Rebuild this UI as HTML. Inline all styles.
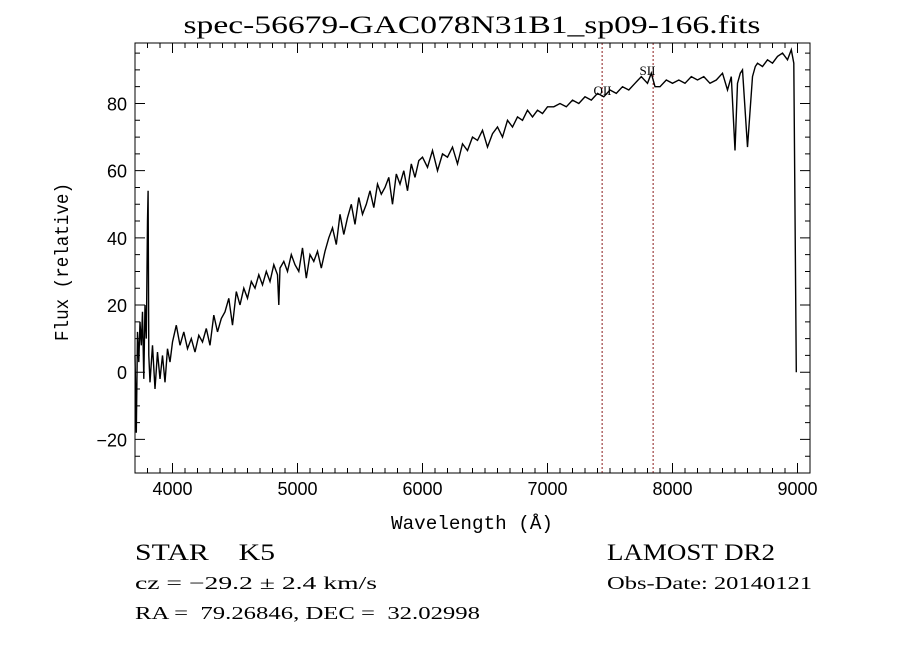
<!DOCTYPE html>
<html><head><meta charset="utf-8"><style>
body{margin:0;background:#fff;width:900px;height:649px;overflow:hidden}
svg text{font-family:"Liberation Serif",serif;fill:#000;white-space:pre}
.tk{font-family:"Liberation Sans",sans-serif;font-size:18px}
</style></head><body>
<svg id="chart" width="900" height="649" viewBox="0 0 900 649" xmlns="http://www.w3.org/2000/svg" xml:space="preserve">
<rect width="900" height="649" fill="#fff"/>
<text x="472" y="33" text-anchor="middle" font-size="25" textLength="577" lengthAdjust="spacingAndGlyphs">spec-56679-GAC078N31B1_sp09-166.fits</text>
<g id="axes"></g>
<text x="472" y="529" text-anchor="middle" font-size="19" textLength="162" lengthAdjust="spacingAndGlyphs" style="font-family:'Liberation Mono',monospace">Wavelength (Å)</text>
<text transform="translate(68,262) rotate(-90)" text-anchor="middle" font-size="19" textLength="158" lengthAdjust="spacingAndGlyphs" style="font-family:'Liberation Mono',monospace">Flux (relative)</text>
<text x="135" y="560" font-size="23" textLength="140" lengthAdjust="spacingAndGlyphs">STAR    K5</text>
<text x="607" y="560" font-size="23" textLength="168" lengthAdjust="spacingAndGlyphs">LAMOST DR2</text>
<text x="135" y="589" font-size="18" textLength="242" lengthAdjust="spacingAndGlyphs">cz = −29.2 ± 2.4 km/s</text>
<text x="607" y="589" font-size="18" textLength="205" lengthAdjust="spacingAndGlyphs">Obs-Date: 20140121</text>
<text x="135" y="619" font-size="18" textLength="345" lengthAdjust="spacingAndGlyphs">RA =  79.26846, DEC =  32.02998</text>
</svg>
<script>
const wavelengths=[3700,3710,3720,3730,3740,3750,3760,3770,3780,3790,3800,3805,3810,3820,3840,3860,3880,3900,3920,3940,3960,3980,4000,4030,4060,4090,4120,4150,4180,4210,4240,4270,4300,4330,4360,4390,4420,4450,4480,4510,4540,4570,4600,4630,4660,4690,4720,4750,4780,4810,4840,4850,4860,4890,4920,4950,4980,5010,5040,5070,5100,5130,5160,5190,5220,5250,5280,5310,5340,5370,5400,5430,5460,5490,5520,5550,5580,5610,5640,5670,5700,5730,5760,5790,5820,5850,5880,5910,5940,5970,6000,6040,6080,6120,6160,6200,6240,6280,6320,6360,6400,6440,6480,6520,6560,6600,6640,6680,6720,6760,6800,6840,6880,6920,6960,7000,7050,7100,7150,7200,7250,7300,7350,7400,7450,7500,7550,7600,7650,7700,7750,7800,7830,7860,7900,7950,8000,8050,8100,8150,8200,8250,8300,8350,8400,8440,8470,8500,8520,8542,8560,8600,8640,8662,8680,8720,8760,8800,8840,8880,8920,8950,8970,8990,9000,9002];
const flux=[5,-18,12,3,15,8,18,-2,20,10,45,54,5,-3,8,-5,6,-2,5,-3,7,3,9,14,8,12,7,10,6,11,9,13,8,17,12,16,18,22,14,24,20,25,22,27,25,29,26,30,27,32,29,20,31,33,30,35,32,30,37,28,35,33,36,31,36,40,43,38,47,41,46,50,44,52,47,50,54,49,56,53,55,58,50,59,56,60,54,62,58,63,64,61,66,60,65,64,67,62,68,66,70,69,72,67,71,73,70,75,73,76,75,78,76,78,77,79,79,80,79,81,80,82,81,83,82,84,83,85,84,86,88,86,89,85,85,87,86,87,86,88,87,88,86,87,89,84,88,66,86,89,90,67,88,91,92,91,93,92,94,95,93,96,92,0];
const xTicks=[4000,5000,6000,7000,8000,9000];
const yTicks=[-20,0,20,40,60,80];
const lineWl=[7437,7845];
const lineLabels=["OII","SII"];
const lineLabelWl=[7440,7800];
const lineLabelFlux=[82.5,88.5];

const NS="http://www.w3.org/2000/svg";
const L=135,R=810,T=43,B=473,X0=3700,X1=9100,Y0=-30,Y1=98;
const sx=v=>L+(v-X0)/(X1-X0)*(R-L);
const sy=v=>B-(v-Y0)/(Y1-Y0)*(B-T);
const g=document.getElementById('axes');
function mk(t,a){const e=document.createElementNS(NS,t);for(const k in a)e.setAttribute(k,a[k]);g.appendChild(e);return e;}
let d="";
for(let v=3800;v<=9100;v+=100){const x=sx(v),len=(v%1000===0)?10:5;d+=`M${x},${B}v${-len}M${x},${T}v${len}`;}
for(let v=-25;v<=95;v+=5){const y=sy(v),len=(v%20===0)?10:5;d+=`M${L},${y}h${len}M${R},${y}h${-len}`;}
const tk=mk('path',{d:d,stroke:'#000','stroke-width':1,fill:'none'});


xTicks.forEach(v=>{const t=mk('text',{x:sx(v),y:B+22,'text-anchor':'middle',class:'tk'});t.textContent=v;

});
yTicks.forEach(v=>{const t=mk('text',{x:L-8,y:sy(v)+7,'text-anchor':'end',class:'tk'});t.textContent=v<0?'−'+(-v):v;

});
lineWl.forEach((w,i)=>{const l=mk('line',{x1:sx(w),x2:sx(w),y1:T,y2:B,stroke:'#8b1a1a','stroke-width':1,'stroke-dasharray':'2,2'});


const t=mk('text',{x:sx(lineLabelWl[i]),y:sy(lineLabelFlux[i]),'font-size':13,'text-anchor':'middle'});t.textContent=lineLabels[i];

});
const pts=wavelengths.map((w,i)=>`${sx(w).toFixed(1)},${sy(flux[i]).toFixed(1)}`).join(' ');
const pl=mk('polyline',{points:pts,fill:'none',stroke:'#000','stroke-width':1.4});


const fr=mk('rect',{x:L,y:T,width:R-L,height:B-T,fill:'none',stroke:'#000','stroke-width':1});


</script>
</body></html>
